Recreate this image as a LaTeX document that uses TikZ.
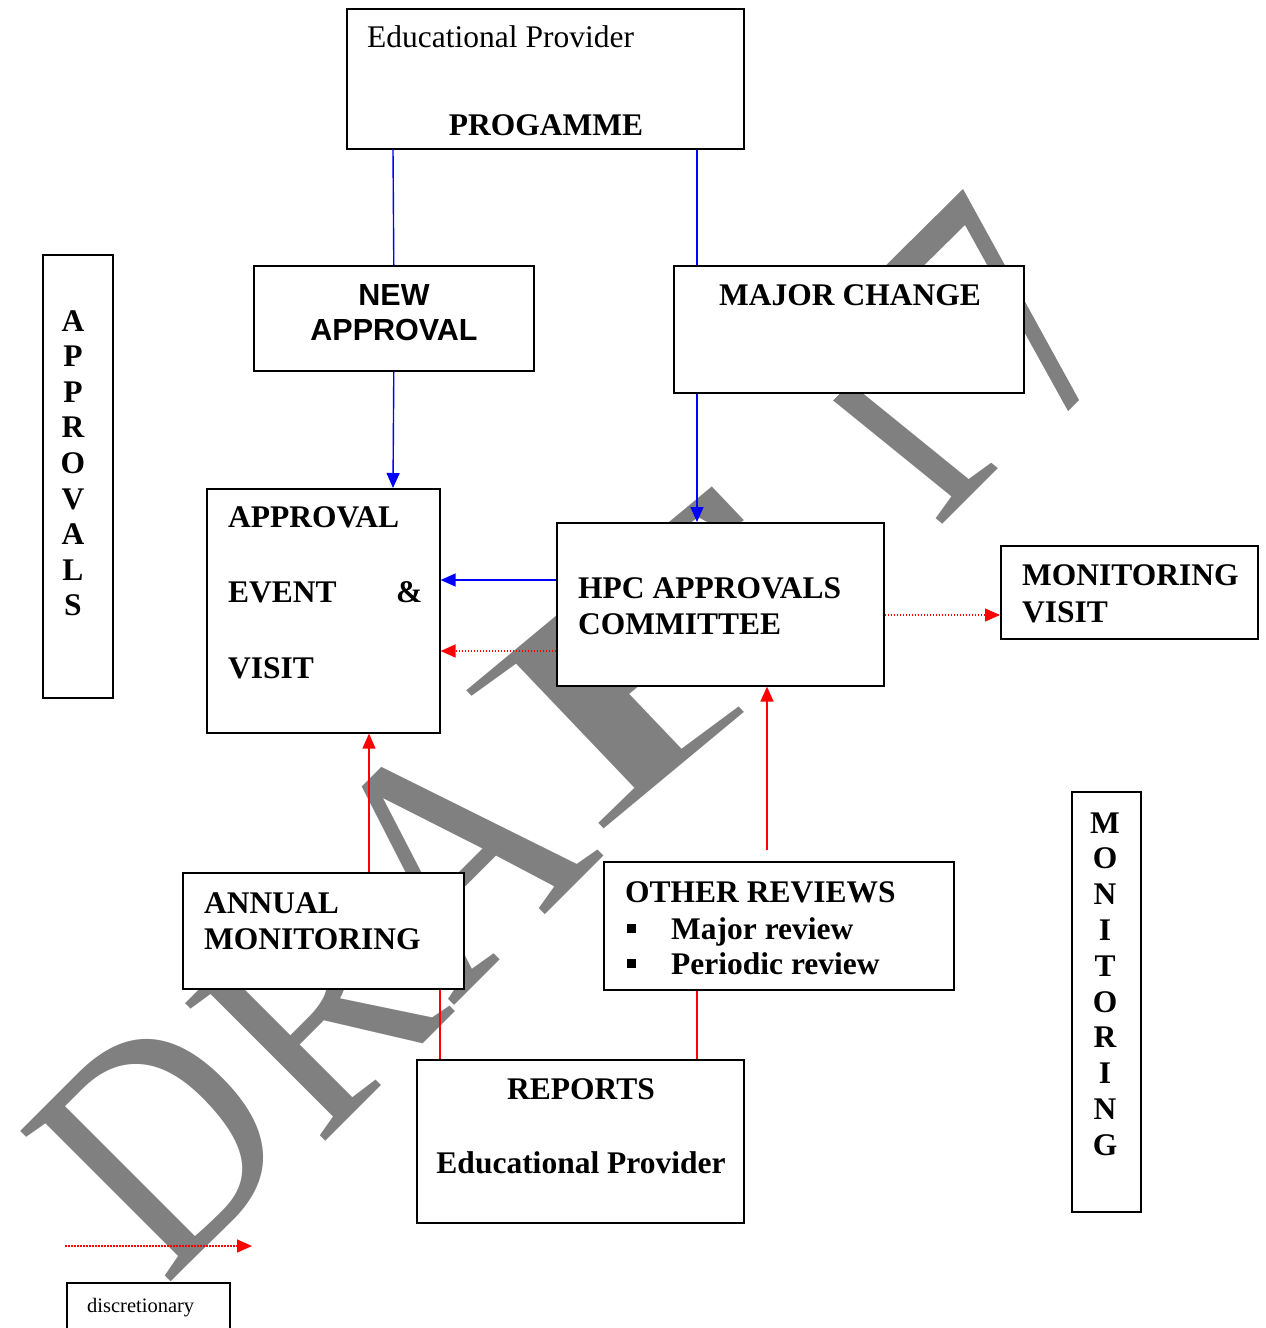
\documentclass[tikz,border=0pt]{standalone}
\usepackage{fontspec}
\setmainfont{Liberation Serif}
\newfontfamily\arialfont{Liberation Sans}
\usetikzlibrary{arrows.meta}
\begin{document}
\begin{tikzpicture}[x=1pt,y=-1pt,
  box/.style={draw=black, fill=white, line width=1.6pt, inner sep=0pt, anchor=north west},
  conn/.style={line width=1.4pt},
  bl/.style={conn, draw=blue},
  rd/.style={conn, draw=red},
  dotred/.style={conn, draw=red, dash pattern=on 1.5pt off 1.5pt},
  tip/.style={-{Triangle[length=15pt,width=13pt]}},
  txt/.style={anchor=base west, inner sep=0pt, font=\fontsize{31.5}{36}\selectfont},
  btxt/.style={anchor=base west, inner sep=0pt, font=\fontsize{31.5}{36}\selectfont\bfseries},
  ctxt/.style={anchor=base, inner sep=0pt, font=\fontsize{31.5}{36}\selectfont\bfseries},
  atxt/.style={anchor=base, inner sep=0pt, font=\fontsize{30.5}{36}\selectfont\arialfont\bfseries},
  wmark/.style={rotate=45, anchor=base west, inner sep=0pt, text=gray},
  wglyph/.style={transform shape, anchor=base west, inner sep=0pt, text=gray, font=\fontsize{100}{100}\selectfont}]
\useasboundingbox (0,0) rectangle (1266,1328);
\fill[white] (0,0) rectangle (1266,1328);
% watermark DRAFT, letter by letter
\node[wmark, font=\fontsize{325}{325}\selectfont] (wmD) at (165,1288) {\scalebox{0.85}[1]{D}};
\node[wmark, font=\fontsize{300}{300}\selectfont] (wmR) at (318,1149) {\scalebox{0.97}[1]{R}};
\node[wmark, font=\fontsize{333}{333}\selectfont] (wmA) at (452,1008) {\scalebox{0.9}[1]{A}};
\begin{scope}[cm={5.0,4.15,-2.05,2.15,(585,844)}]
  \node[wglyph] (wmF) at (0,0) {F};
\end{scope}
\begin{scope}[cm={1.84,1.84,-2.59,2.10,(914,553)}]
  \clip (-10pt,-30pt) rectangle (80pt,50pt);
  \node[wglyph] (wmT) at (0,0) {T};
\end{scope}
\fill[gray] (861,290) -- (963,189) -- (1079,400) -- (1068,411) -- (965,225) -- (899,290) -- cycle;
% boxes
\node[box, minimum width=397pt, minimum height=140pt] (prog) at (346,8) {};
\node[box, minimum width=280pt, minimum height=105pt] (newap) at (253,265) {};
\node[box, minimum width=350pt, minimum height=127pt] (major) at (673,265) {};
\node[box, minimum width=70pt, minimum height=443pt] (apvl) at (42,254) {};
\node[box, minimum width=233pt, minimum height=244pt] (event) at (206,488) {};
\node[box, minimum width=327pt, minimum height=163pt] (hpc) at (556,522) {};
\node[box, minimum width=257pt, minimum height=93pt] (mvisit) at (1000,545) {};
\node[box, minimum width=281pt, minimum height=116pt] (annual) at (182,872) {};
\node[box, minimum width=350pt, minimum height=128pt] (others) at (603,861) {};
\node[box, minimum width=327pt, minimum height=163pt] (reports) at (416,1059) {};
\node[box, minimum width=69pt, minimum height=420pt] (monv) at (1071,791) {};
\node[box, minimum width=163pt, minimum height=70pt] (disc) at (66,1282) {};
% texts
\node[txt] (t1) at (367,47) {Educational Provider};
\node[ctxt] (t2) at (546,135) {PROGAMME};
\node[atxt] (t3) at (394,305) {NEW};
\node[atxt] (t4) at (394,340) {APPROVAL};
\node[ctxt] (t5) at (850,305) {MAJOR CHANGE};
\foreach \l [count=\i from 0] in {A,P,P,R,O,V,A,L,S}
  \node[ctxt] (ap\i) at (73,331+35.6*\i) {\l};
\node[btxt] (t6) at (228,527) {APPROVAL};
\node[btxt] (t7) at (228,602) {EVENT};
\node[btxt] (t8) at (396,602) {\&};
\node[btxt] (t9) at (228,678) {VISIT};
\node[btxt] (t10) at (578,598) {HPC APPROVALS};
\node[btxt] (t11) at (578,634) {COMMITTEE};
\node[btxt] (t12) at (1022,585) {MONITORING};
\node[btxt] (t13) at (1022,622) {VISIT};
\node[btxt] (t14) at (204,913) {ANNUAL};
\node[btxt] (t15) at (204,949) {MONITORING};
\node[btxt] (t16) at (625,902) {OTHER REVIEWS};
\node[inner sep=0pt] (b1) at (631,928) {\rule{9pt}{9pt}};
\node[btxt] (t17) at (671,939) {Major review};
\node[inner sep=0pt] (b2) at (631,963) {\rule{9pt}{9pt}};
\node[btxt] (t18) at (671,974) {Periodic review};
\node[ctxt] (t19) at (581,1099) {REPORTS};
\node[ctxt] (t20) at (581,1173) {Educational Provider};
\foreach \l [count=\i from 0] in {M,O,N,I,T,O,R,I,N,G}
  \node[ctxt] (mo\i) at (1105,833+35.8*\i) {\l};
\node[anchor=base west, inner sep=0pt, font=\fontsize{20.5}{24}\selectfont] (t21) at (87,1312) {discretionary};
% connectors
\draw[bl] ([xshift=47pt]prog.south west) -- (newap.north);
\draw[bl] ([xshift=351pt]prog.south west) -- ([xshift=24pt]major.north west);
\draw[bl,tip] (newap.south) -- ([xshift=187pt]event.north west);
\draw[bl,tip] ([xshift=24pt]major.south west) -- ([xshift=141pt]hpc.north west);
\draw[bl,tip] ([yshift=-58pt]hpc.north west) -- ([yshift=-92pt]event.north east);
\draw[dotred,tip] ([yshift=-129pt]hpc.north west) -- ([yshift=-163pt]event.north east);
\draw[dotred,tip] ([yshift=-93pt]hpc.north east) -- ([yshift=-70pt]mvisit.north west);
\draw[rd,tip] ([xshift=187pt]annual.north west) -- ([xshift=163pt]event.south west);
\draw[rd,tip] ([xshift=164pt,yshift=11pt]others.north west) -- ([xshift=211pt]hpc.south west);
\draw[rd] ([xshift=258pt]annual.south west) -- ([xshift=24pt]reports.north west);
\draw[rd] ([xshift=94pt]others.south west) -- ([xshift=281pt]reports.north west);
\coordinate (lg1) at (65,1246);
\coordinate (lg2) at (252,1246);
\draw[dotred,tip] (lg1) -- (lg2);
\end{tikzpicture}
\end{document}
